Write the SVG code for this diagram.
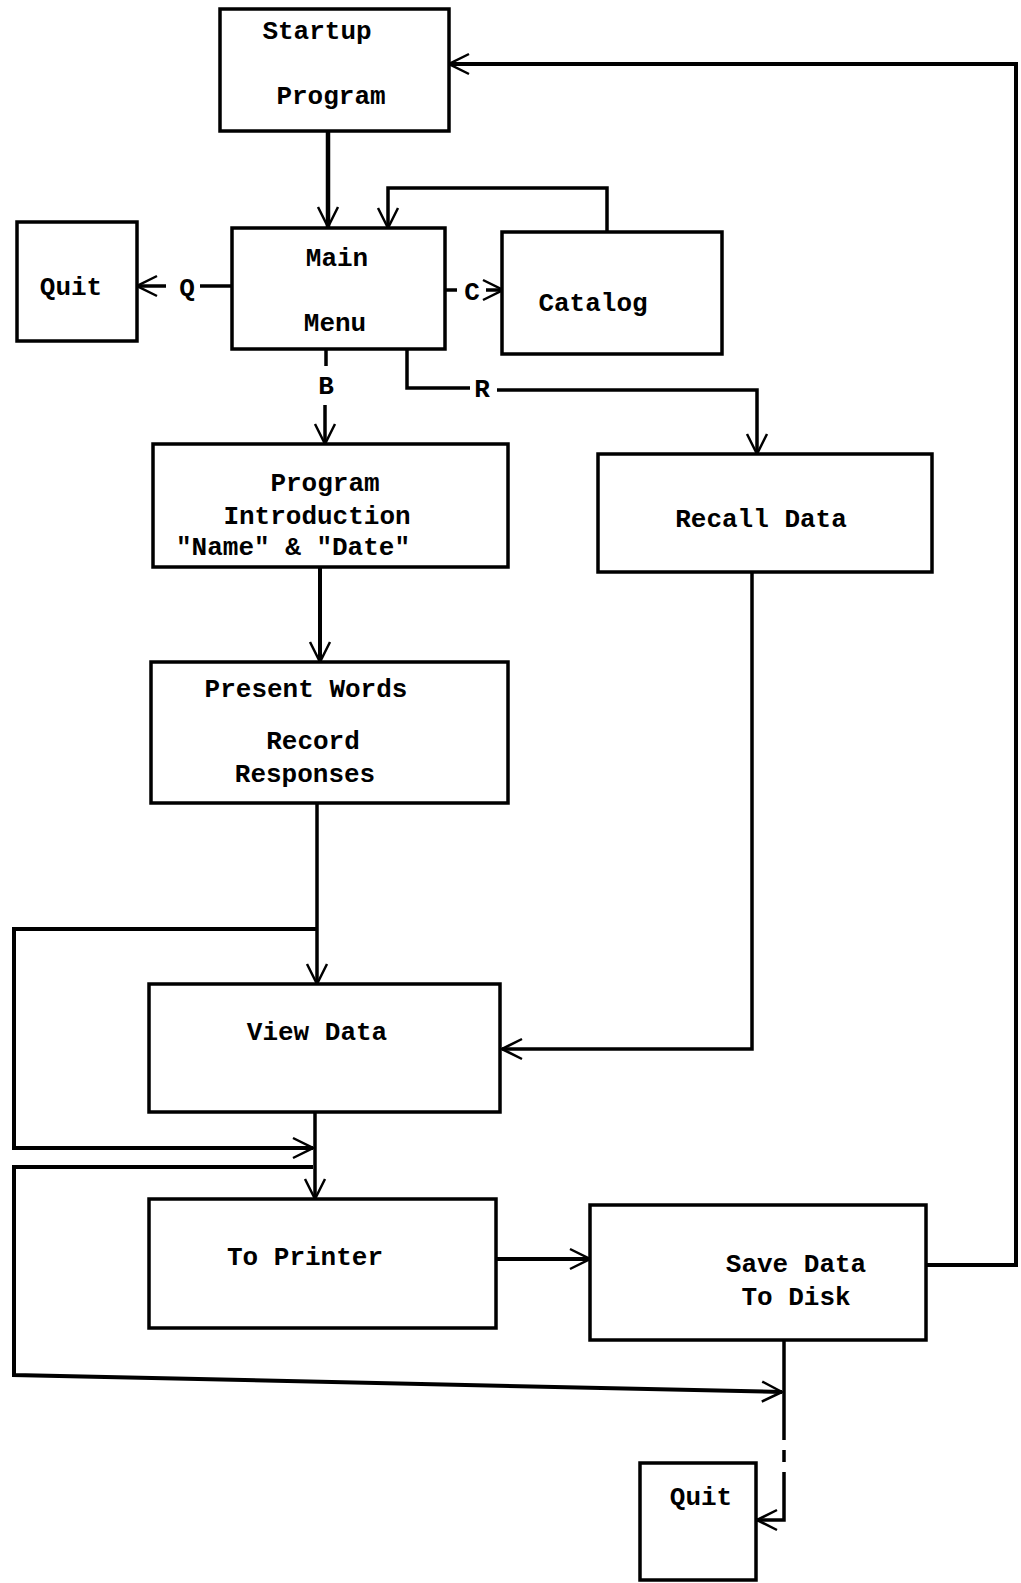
<svg xmlns="http://www.w3.org/2000/svg" width="1021" height="1583" viewBox="0 0 1021 1583">
<style>
.box{fill:#fff;stroke:#000;stroke-width:3.5}
.t{font-family:"Liberation Mono","DejaVu Sans Mono",monospace;font-size:26px;font-weight:bold;fill:#000;text-anchor:middle}
.c{fill:none;stroke:#000;stroke-width:3.5;stroke-linecap:butt;stroke-linejoin:miter}
.thin{stroke-width:2.5}
</style>
<defs>
<marker id="ah" viewBox="-24 -13 26 26" refX="0" refY="0" markerWidth="26" markerHeight="26" markerUnits="userSpaceOnUse" orient="auto">
<path d="M-20,-10 L0,0 L-20,10" fill="none" stroke="#000" stroke-width="2.5"/>
</marker>
</defs>
<rect width="1021" height="1583" fill="#fff"/>

<g id="connectors">
<path class="c" style="stroke-width:4.5" d="M328,131 V227" marker-end="url(#ah)"/>
<path class="c" d="M607,232 V188 H388 V228" marker-end="url(#ah)"/>
<path class="c" d="M231,286 H200"/>
<path class="c" d="M166,286 H137" marker-end="url(#ah)"/>
<path class="c" d="M445,290 H457"/>
<path class="c" d="M486,290 H503" marker-end="url(#ah)"/>
<path class="c" d="M326,349 V366"/>
<path class="c" d="M325,405 V444" marker-end="url(#ah)"/>
<path class="c" d="M407,350 V388 H470"/>
<path class="c" d="M497,390 H757 V454" marker-end="url(#ah)"/>
<path class="c" style="stroke-width:4" d="M320,567 V662" marker-end="url(#ah)"/>
<path class="c" d="M317,803 V984" marker-end="url(#ah)"/>
<path class="c" style="stroke-width:4" d="M317,929 H14 V1148 H313" marker-end="url(#ah)"/>
<path class="c" d="M752,572 V1049 H502" marker-end="url(#ah)"/>
<path class="c" d="M315,1112 V1199" marker-end="url(#ah)"/>
<path class="c" style="stroke-width:4" d="M313,1167 H14 V1375 L782,1392" marker-end="url(#ah)"/>
<path class="c" style="stroke-width:4" d="M496,1259 H590" marker-end="url(#ah)"/>
<path class="c" style="stroke-width:4" d="M926,1265 H1016 V64 H449" marker-end="url(#ah)"/>
<path class="c" d="M784,1340 V1440"/>
<path class="c" d="M784,1450 V1462 M784,1472 V1520 H757" marker-end="url(#ah)"/>
<text class="t" x="187" y="296">Q</text>
<text class="t" x="472" y="300">C</text>
<text class="t" x="326" y="394">B</text>
<text class="t" x="482" y="397">R</text>
</g>

<g id="startup">
<rect class="box" x="220" y="9" width="229" height="122"/>
<text class="t" x="317" y="39">Startup</text>
<text class="t" x="331" y="104">Program</text>
</g>

<g id="main-menu">
<rect class="box" x="232" y="228" width="213" height="121"/>
<text class="t" x="337" y="266">Main</text>
<text class="t" x="335" y="331">Menu</text>
</g>

<g id="quit-top">
<rect class="box" x="17" y="222" width="120" height="119"/>
<text class="t" x="71" y="295">Quit</text>
</g>

<g id="catalog">
<rect class="box" x="502" y="232" width="220" height="122"/>
<text class="t" x="593" y="311">Catalog</text>
</g>

<g id="program-intro">
<rect class="box" x="153" y="444" width="355" height="123"/>
<text class="t" x="325" y="491">Program</text>
<text class="t" x="317" y="524">Introduction</text>
<text class="t" x="293" y="555">"Name" &amp; "Date"</text>
</g>

<g id="recall-data">
<rect class="box" x="598" y="454" width="334" height="118"/>
<text class="t" x="761" y="527">Recall Data</text>
</g>

<g id="present-words">
<rect class="box" x="151" y="662" width="357" height="141"/>
<text class="t" x="306" y="697">Present Words</text>
<text class="t" x="313" y="749">Record</text>
<text class="t" x="305" y="782">Responses</text>
</g>

<g id="view-data">
<rect class="box" x="149" y="984" width="351" height="128"/>
<text class="t" x="317" y="1040">View Data</text>
</g>

<g id="to-printer">
<rect class="box" x="149" y="1199" width="347" height="129"/>
<text class="t" x="305" y="1265">To Printer</text>
</g>

<g id="save-data">
<rect class="box" x="590" y="1205" width="336" height="135"/>
<text class="t" x="796" y="1272">Save Data</text>
<text class="t" x="796" y="1305">To Disk</text>
</g>

<g id="quit-bottom">
<rect class="box" x="640" y="1463" width="116" height="117"/>
<text class="t" x="701" y="1505">Quit</text>
</g>
</svg>
